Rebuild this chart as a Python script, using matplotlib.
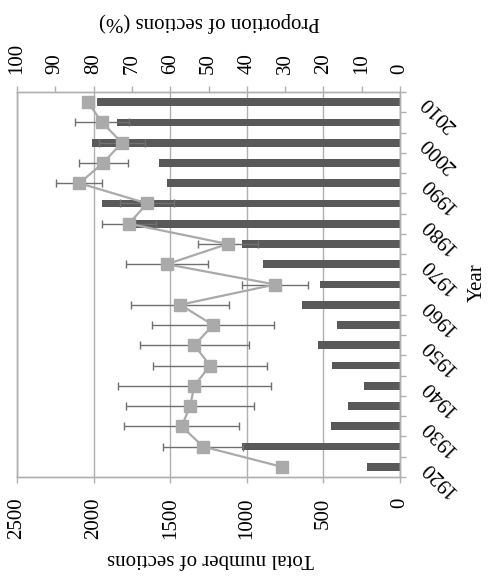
import numpy as np
import matplotlib
matplotlib.use('Agg')
import matplotlib.pyplot as plt
import matplotlib.transforms as mtransforms

plt.rcParams['font.family'] = ['Liberation Serif', 'DejaVu Serif']

# Data (1920 -> 2010, every 5 years)
years = [1920, 1925, 1930, 1935, 1940, 1945, 1950, 1955, 1960, 1965,
         1970, 1975, 1980, 1985, 1990, 1995, 2000, 2005, 2010]
total_sections = [215, 1030, 450, 340, 235, 444, 535, 411, 640, 522,
                  894, 1030, 1740, 1945, 1521, 1573, 2010, 1850, 1980]
proportion = [30.8, 51.4, 57.0, 54.8, 53.7, 49.6, 53.7, 48.8, 57.4, 32.6,
              60.9, 45.0, 70.8, 66.0, 83.7, 77.5, 72.6, 77.8, 81.5]
proportion_err = [0, 10.4, 15.0, 16.7, 20.0, 15.0, 14.2, 16.0, 12.8, 8.7,
                  10.7, 7.8, 7.0, 7.0, 6.0, 6.4, 6.0, 7.0, 0]

year_labels = [str(y) for y in years[::2]]
num_ticks = [0, 500, 1000, 1500, 2000, 2500]
prop_ticks = list(range(0, 101, 10))

fs = 15
grey = '#b0b0b0'

fig = plt.figure(figsize=(4.93, 5.85), dpi=100)
ax = fig.add_axes([17 / 493, 1 - 477 / 585, 383 / 493, 385 / 585])

pos = np.arange(len(years))

# bars: total number of sections
ax.barh(pos, total_sections, height=0.38, color='#595959', zorder=2)
ax.set_xlim(2500, 0)
ax.set_ylim(-0.5, len(years) - 0.5)

ax.set_xticks(num_ticks)
ax.set_xticklabels([str(v) for v in num_ticks], rotation=90)
ax.tick_params(axis='x', direction='out', length=4, width=1, color=grey,
               pad=11, labelsize=fs)
ax.grid(axis='x', color=grey, linewidth=1, zorder=0)
ax.set_axisbelow(True)

# year axis on the right
ax.yaxis.tick_right()
ax.set_yticks(pos[::2])
ax.set_yticklabels(year_labels, rotation=135, ha='left', va='top')
ax.set_yticks(np.arange(-0.5, len(years), 1), minor=True)
ax.tick_params(axis='y', which='major', length=0, pad=13, labelsize=fs)
ax.tick_params(axis='y', which='minor', direction='out', length=4,
               width=1, color=grey)
shift = mtransforms.ScaledTranslation(0, 0.10, fig.dpi_scale_trans)
for lab in ax.get_yticklabels():
    lab.set_transform(lab.get_transform() + shift)

for side in ['left', 'right', 'top', 'bottom']:
    ax.spines[side].set_color(grey)
    ax.spines[side].set_linewidth(1)

# proportion on the top axis
ax2 = ax.twiny()
ax2.set_xlim(100, 0)
ax2.errorbar(proportion, pos, xerr=proportion_err, fmt='-s',
             color='#aaaaaa', ms=9, lw=1.6, ecolor='#707070',
             elinewidth=1, capsize=3, capthick=1, zorder=3)
ax2.set_xticks(prop_ticks)
ax2.set_xticklabels([str(v) for v in prop_ticks], rotation=90)
ax2.tick_params(axis='x', direction='out', length=4, width=1, color=grey,
                pad=9, labelsize=fs)
for side in ['left', 'right', 'top', 'bottom']:
    ax2.spines[side].set_color(grey)
    ax2.spines[side].set_linewidth(1)

# axis titles
fig.text(210 / 493, 1 - 22 / 585, 'Proportion of sections (%)', fontsize=fs,
         rotation=180, ha='center', va='center')
fig.text(210 / 493, 1 - 558 / 585, 'Total number of sections', fontsize=fs,
         rotation=180, ha='center', va='center')
fig.text(477 / 493, 1 - 283 / 585, 'Year', fontsize=fs,
         rotation=90, ha='center', va='center')

fig.savefig('out.png', dpi=100)
